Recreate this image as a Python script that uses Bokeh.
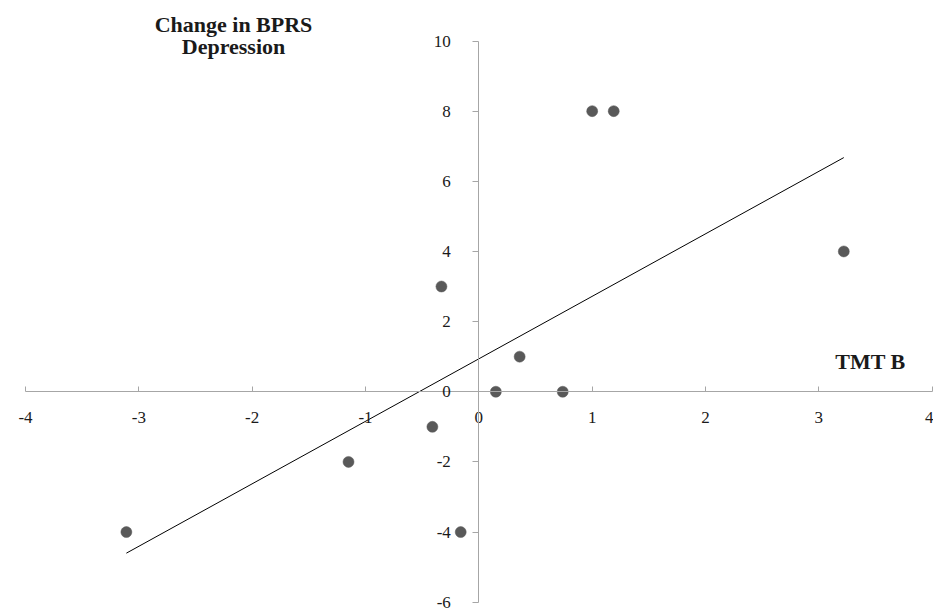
import numpy as np
from bokeh.plotting import figure
from bokeh.models import FixedTicker, Label, Range1d, PrintfTickFormatter
from bokeh.embed import file_html
from bokeh.resources import INLINE

# ---- data ----
tmt_b = [-3.11, -1.15, -0.41, -0.33, -0.16, 0.15, 0.36, 0.74, 1.00, 1.19, 3.22]
bprs_change = [-4, -2, -1, 3, -4, 0, 1, 0, 8, 8, 4]
x_ticks = [-4, -3, -2, -1, 0, 1, 2, 3, 4]
y_ticks = [-6, -4, -2, 0, 2, 4, 6, 8, 10]
x_title = "TMT B"
y_title = "Change in BPRS\nDepression"

W, H = 933, 611
FONT = "Liberation Serif"

p = figure(width=W, height=H, output_backend="svg", toolbar_location=None,
           x_range=Range1d(-4.2206, 4.0115), y_range=Range1d(-6.2651, 11.1547),
           min_border=0, min_border_left=0, min_border_right=0,
           min_border_top=0, min_border_bottom=0)
p.outline_line_color = None
p.background_fill_color = "white"
p.border_fill_color = "white"
p.grid.visible = False

# axes crossing at the origin
p.xaxis.fixed_location = 0
p.yaxis.fixed_location = 0
p.xaxis.bounds = (x_ticks[0], x_ticks[-1])
p.yaxis.bounds = (y_ticks[0], y_ticks[-1])
p.xaxis.ticker = FixedTicker(ticks=x_ticks)
p.yaxis.ticker = FixedTicker(ticks=y_ticks)
for ax in (p.xaxis, p.yaxis):
    ax.formatter = PrintfTickFormatter(format="%d")
    ax.axis_line_color = "#a6a6a6"
    ax.axis_line_width = 1
    ax.major_tick_line_color = "#a6a6a6"
    ax.minor_tick_line_color = None
    ax.major_label_text_font = FONT
    ax.major_label_text_font_size = "17px"
    ax.major_label_text_color = "#1a1a1a"
p.xaxis.major_tick_in = 5
p.xaxis.major_tick_out = 0
p.xaxis.major_label_standoff = 20
p.yaxis.major_tick_in = 0
p.yaxis.major_tick_out = 6
p.yaxis.major_label_standoff = 22

# trend line (least squares fit of the points)
slope, intercept = np.polyfit(tmt_b, bprs_change, 1)
xl = [min(tmt_b), max(tmt_b)]
p.line(xl, [slope * v + intercept for v in xl], line_color="black", line_width=1)

# points
p.scatter(tmt_b, bprs_change, size=11, fill_color="#595959", line_color="#595959",
          line_width=0.5)

# axis titles
p.add_layout(Label(x=233, y=600, x_units="screen", y_units="screen",
                   text=y_title, text_font=FONT, text_font_style="bold",
                   text_font_size="22px", text_align="center", text_baseline="top",
                   text_line_height=0.88, text_color="#1a1a1a"))
p.add_layout(Label(x=870, y=250, x_units="screen", y_units="screen",
                   text=x_title, text_font=FONT, text_font_style="bold",
                   text_font_size="22px", text_align="center",
                   text_baseline="alphabetic", text_color="#1a1a1a"))

open("out.html", "w").write(file_html(p, INLINE))
